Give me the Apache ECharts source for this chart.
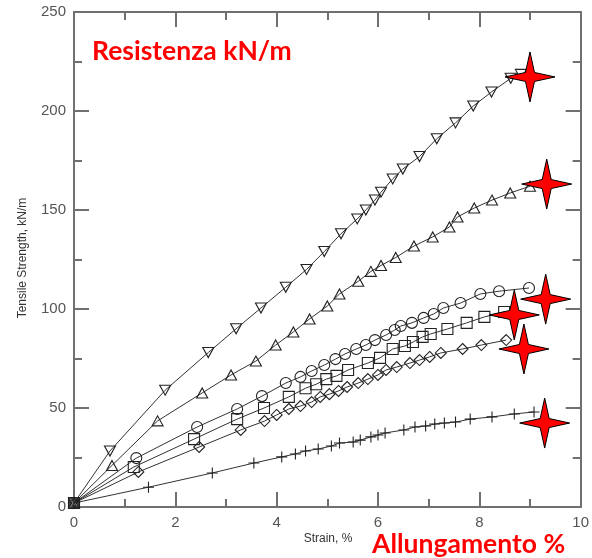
<!DOCTYPE html>
<html>
<head>
<meta charset="utf-8">
<script src="https://cdn.jsdelivr.net/npm/echarts@6/dist/echarts.min.js"></script>
<style>html,body{margin:0;padding:0;background:#fff;}#c{width:592px;height:558px;}</style>
</head>
<body>
<div id="c"></div>
<script>
// ---- data (strain %, tensile strength kN/m) ----
var xTicks = [0, 2, 4, 6, 8, 10];
var yTicks = [0, 50, 100, 150, 200, 250];
var seriesDown = [[0,2],[0.71,28.3],[1.80,59],[2.65,78],[3.20,90],[3.69,100.5],[4.18,111],[4.59,120],[4.94,129],[5.27,138],[5.59,145.5],[5.76,150],[5.94,155],[6.06,159],[6.29,165.7],[6.49,170.7],[6.82,177],[7.16,186],[7.53,194],[7.88,202.5],[8.24,209.6],[8.62,216.5],[8.82,218.5]];
var seriesUp = [[0,2],[0.75,21],[1.65,43.5],[2.53,57.6],[3.10,66.7],[3.59,73.7],[3.98,81.8],[4.33,88.4],[4.65,95],[5.0,101.5],[5.24,107.6],[5.61,114],[5.86,119],[6.06,122],[6.35,126],[6.71,131.8],[7.08,136.4],[7.41,141.4],[7.57,146.5],[7.90,151],[8.25,155],[8.61,158.6],[9.0,162]];
var seriesCircle = [[0,2],[1.23,24.7],[2.43,40.4],[3.22,49.5],[3.71,56],[4.18,62.6],[4.47,65.7],[4.69,68.7],[4.94,71.7],[5.16,74.7],[5.35,77.3],[5.57,79.8],[5.76,81.8],[5.94,84.3],[6.16,86.9],[6.33,89.4],[6.45,91.4],[6.67,93],[6.90,95.5],[7.10,97.5],[7.29,100.5],[7.63,103],[8.02,107.6],[8.39,109],[8.98,110.6]];
var seriesSquare = [[0,2],[1.18,20.2],[2.37,34.3],[3.22,44.4],[3.75,50],[4.24,55.6],[4.57,60],[4.78,62],[4.98,64.6],[5.18,66.2],[5.41,69.2],[5.80,72.7],[6.04,75.3],[6.29,79.8],[6.53,81.3],[6.69,83.3],[6.88,85.9],[7.04,87.4],[7.37,89.9],[7.75,93],[8.1,96],[8.49,98.5]];
var seriesDiamond = [[0,2],[1.27,17.7],[2.47,30.3],[3.29,38.9],[3.76,43.4],[4.0,46.5],[4.24,49.5],[4.47,51],[4.69,53],[4.86,55.6],[5.04,57],[5.22,58.6],[5.39,60.6],[5.61,62.6],[5.80,64.6],[6.0,66.7],[6.16,69.2],[6.37,70.7],[6.63,72.7],[6.82,74.2],[7.02,75.8],[7.24,77.8],[7.67,79.8],[8.04,81.8],[8.53,84.3]];
var seriesPlus = [[0,2],[1.47,10],[2.73,17.2],[3.55,22.2],[4.10,25.3],[4.37,26.8],[4.57,28.3],[4.82,29.3],[5.08,30.8],[5.24,32.3],[5.51,32.8],[5.65,33.8],[5.86,35.4],[6.0,36.4],[6.14,37.4],[6.51,38.9],[6.73,40.4],[6.94,40.9],[7.12,41.9],[7.31,42.4],[7.53,42.9],[7.82,44.4],[8.25,45.5],[8.69,47],[9.08,48]];
var starPoints = [[9.0,217.2],[9.33,163.1],[9.31,105],[8.69,97],[8.88,79.8],[9.29,42.4]];

var chart = echarts.init(document.getElementById('c'));
var axisColor = '#707070';
var labelColor = '#555';

function lineSeries(name, data, symbol, size) {
  return {
    name: name, type: 'line', data: data, symbol: symbol, symbolSize: size,
    showSymbol: true, animation: false, z: 3,
    lineStyle: { color: '#333', width: 1 },
    itemStyle: { color: 'rgba(0,0,0,0)', borderColor: '#222', borderWidth: 1.1 }
  };
}

function xAx(pos, labels) {
  return {
    type: 'value', min: 0, max: 10, interval: 2, position: pos,
    axisLine: { show: true, onZero: false, lineStyle: { color: axisColor, width: 2 } },
    axisTick: { show: true, inside: true, length: 15, lineStyle: { color: axisColor, width: 2 } },
    minorTick: { show: true, splitNumber: 2, length: 8, lineStyle: { color: axisColor, width: 2 } },
    splitLine: { show: false },
    axisLabel: { show: labels, color: labelColor, fontSize: 15, fontFamily: 'Liberation Sans', margin: 8 }
  };
}
function yAx(pos, labels) {
  return {
    type: 'value', min: 0, max: 250, interval: 50, position: pos,
    axisLine: { show: true, onZero: false, lineStyle: { color: axisColor, width: 2 } },
    axisTick: { show: true, inside: true, length: 15, lineStyle: { color: axisColor, width: 2 } },
    minorTick: { show: true, splitNumber: 2, length: 8, lineStyle: { color: axisColor, width: 2 } },
    splitLine: { show: false },
    axisLabel: { show: labels, color: labelColor, fontSize: 15, fontFamily: 'Liberation Sans', margin: 8 }
  };
}

var starPath = 'path://M50,0 L59,41 L100,50 L59,59 L50,100 L41,59 L0,50 L41,41 Z';

chart.setOption({
  backgroundColor: '#fff',
  animation: false,
  grid: { left: 74, right: 8, top: 12, bottom: 51 },
  xAxis: [xAx('bottom', true), xAx('top', false)],
  yAxis: [yAx('left', true), yAx('right', false)],
  series: [
    lineSeries('down', seriesDown, 'path://M0,0 L12,0 L6,10 Z', [11, 10]),
    lineSeries('up', seriesUp, 'path://M6,0 L12,10 L0,10 Z', [11, 10]),
    lineSeries('circle', seriesCircle, 'circle', 11),
    lineSeries('square', seriesSquare, 'rect', 11),
    lineSeries('diamond', seriesDiamond, 'diamond', [11, 11]),
    lineSeries('plus', seriesPlus, 'path://M5,0 L5,10 M0,5 L10,5', 11),
    {
      name: 'stars', type: 'scatter', data: starPoints, symbol: starPath,
      symbolSize: [50, 50], z: 10, animation: false,
      itemStyle: { color: '#ff0000', borderColor: '#000', borderWidth: 1, opacity: 1 }
    }
  ],
  graphic: [
    { type: 'text', x: 23, y: 258, rotation: Math.PI / 2,
      style: { text: 'Tensile Strength, kN/m', fill: '#333', font: '12px "Liberation Sans"', textAlign: 'center', textVerticalAlign: 'middle' } },
    { type: 'text', x: 328, y: 539,
      style: { text: 'Strain, %', fill: '#333', font: '12px "Liberation Sans"', textAlign: 'center', textVerticalAlign: 'middle' } },
    { type: 'text', x: 92, y: 51,
      style: { text: 'Resistenza kN/m', fill: '#ff0000', font: 'bold 26.5px Lato', textAlign: 'left', textVerticalAlign: 'middle' } },
    { type: 'text', x: 372, y: 544,
      style: { text: 'Allungamento %', fill: '#ff0000', font: 'bold 26.5px Lato', textAlign: 'left', textVerticalAlign: 'middle' } }
  ]
});
</script>
</body>
</html>
